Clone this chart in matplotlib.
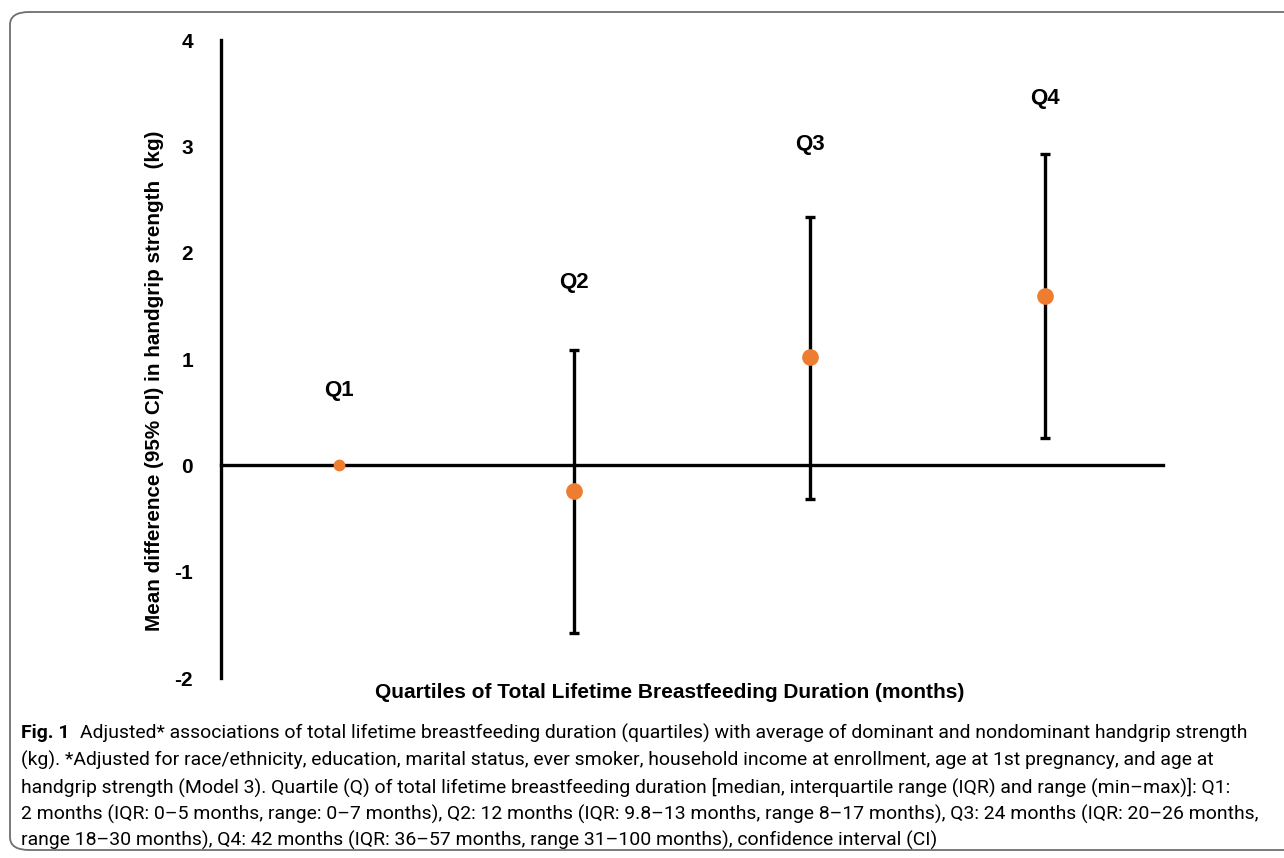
import matplotlib
matplotlib.use("Agg")
import matplotlib.pyplot as plt
from matplotlib.patches import FancyBboxPatch

quartiles = ["Q1", "Q2", "Q3", "Q4"]
means = [0.0, -0.245, 1.02, 1.59]
lower = [0.0, -1.58, -0.32, 0.26]
upper = [0.0, 1.08, 2.34, 2.93]
label_y = [0.70, 1.72, 3.02, 3.45]
yticks = [-2, -1, 0, 1, 2, 3, 4]

caption_bold = "Fig. 1"
caption_lines = [
    "Adjusted* associations of total lifetime breastfeeding duration (quartiles) with average of dominant and nondominant handgrip strength",
    "(kg). *Adjusted for race/ethnicity, education, marital status, ever smoker, household income at enrollment, age at 1st pregnancy, and age at",
    "handgrip strength (Model 3). Quartile (Q) of total lifetime breastfeeding duration [median, interquartile range (IQR) and range (min\u2013max)]: Q1:",
    "2 months (IQR: 0\u20135 months, range: 0\u20137 months), Q2: 12 months (IQR: 9.8\u201313 months, range 8\u201317 months), Q3: 24 months (IQR: 20\u201326 months,",
    "range 18\u201330 months), Q4: 42 months (IQR: 36\u201357 months, range 31\u2013100 months), confidence interval (CI)",
]

chart_font = ["Liberation Sans", "DejaVu Sans"]
cap_font = ["Roboto", "DejaVu Sans"]

fig = plt.figure(figsize=(12.84, 8.58), dpi=100)

# border
border = FancyBboxPatch((10 / 1284, 8 / 858), 1300 / 1284, 838 / 858,
                        boxstyle="round,pad=0,rounding_size=0.015",
                        transform=fig.transFigure, fill=False,
                        edgecolor="#6e6e6e", linewidth=1.3)
fig.patches.append(border)

ax = fig.add_axes([221 / 1284, 1 - 678 / 858, (1163 - 221) / 1284, (678 - 40) / 858])
x = list(range(1, len(quartiles) + 1))
ax.set_xlim(0.5, 4.5)
ax.set_ylim(-2, 4)

for xi, m, lo, hi, q, ly in zip(x, means, lower, upper, quartiles, label_y):
    if hi != lo:
        ax.errorbar([xi], [m], yerr=[[m - lo], [hi - m]], fmt="none",
                    ecolor="black", elinewidth=2.4, capsize=3.5, capthick=2.4, zorder=3)
        ax.plot([xi], [m], "o", color="#ED7D31", markersize=11, zorder=4)
    else:
        ax.plot([xi], [m], "o", color="#ED7D31", markersize=7.5, zorder=4)
    ax.text(xi, ly, q, ha="center", va="center", fontsize=16, fontweight="bold",
            family=chart_font)

ax.spines["right"].set_visible(False)
ax.spines["top"].set_visible(False)
ax.spines["bottom"].set_position(("data", 0))
ax.spines["left"].set_linewidth(2.4)
ax.spines["bottom"].set_linewidth(2.4)
ax.set_xticks([])
ax.set_yticks(yticks)
ax.set_yticklabels([str(t) for t in yticks], fontsize=15, fontweight="bold", family=chart_font)
ax.tick_params(axis="y", length=0, pad=20)

fig.canvas.draw()
r = fig.canvas.get_renderer()

ylab = fig.text(155 / 1284, 1 - 381 / 858, "Mean difference (95% CI) in handgrip strength  (kg)",
                rotation=90, ha="center", va="center", fontsize=14, fontweight="bold", family=chart_font)
xlab = fig.text(670 / 1284, 1 - 692 / 858, "Quartiles of Total Lifetime Breastfeeding Duration (months)",
                ha="center", va="center", fontsize=14, fontweight="bold", family=chart_font)
xlab.set_fontsize(14 * 590 / xlab.get_window_extent(renderer=r).width)
ylab.set_fontsize(14 * 502 / ylab.get_window_extent(renderer=r).height)

# caption: fit the first line to the reference width
ys = [733, 760, 787, 814, 840]
fs = 13.0
tb = fig.text(21 / 1284, 1 - ys[0] / 858, caption_bold, ha="left", va="center",
              fontsize=fs, fontweight="bold", family=cap_font)
t0 = fig.text(0, 1 - ys[0] / 858, caption_lines[0], ha="left", va="center",
              fontsize=fs, family=cap_font)
w_total = tb.get_window_extent(renderer=r).width + 10 + t0.get_window_extent(renderer=r).width
fs = fs * (1245 - 21) / w_total
tb.set_fontsize(fs)
t0.set_fontsize(fs)
bb = tb.get_window_extent(renderer=r)
t0.set_x((bb.x1 + 10) / 1284)
for line, yy in zip(caption_lines[1:], ys[1:]):
    fig.text(21 / 1284, 1 - yy / 858, line, ha="left", va="center", fontsize=fs, family=cap_font)

fig.savefig("out.png", dpi=100)
